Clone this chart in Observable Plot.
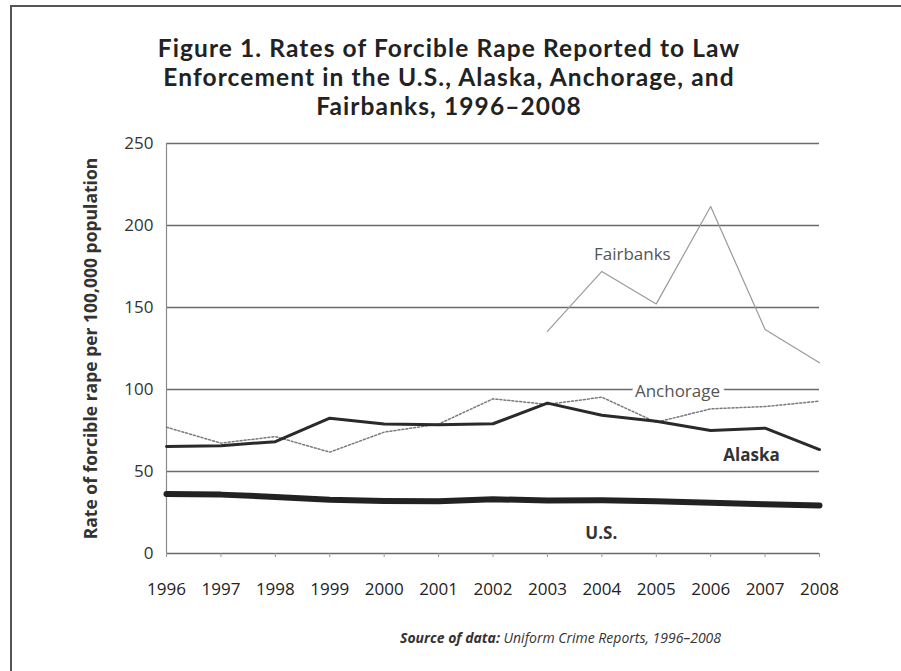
<!DOCTYPE html>
<html>
<head>
<meta charset="utf-8">
<script src="https://cdn.jsdelivr.net/npm/d3@7"></script>
<script src="https://cdn.jsdelivr.net/npm/@observablehq/plot@0.6"></script>
<style>
  html, body { margin: 0; padding: 0; background: #fff; }
  #page { position: relative; width: 901px; height: 671px; overflow: hidden; font-family: "Open Sans", sans-serif; color: #222; }
  #border-top { position: absolute; left: 11px; top: 5px; width: 890px; height: 2px; background: #555; }
  #border-left { position: absolute; left: 10px; top: 5px; width: 2px; height: 666px; background: #555; }
  #title { position: absolute; left: 0; top: 33px; width: 898px; text-align: center; font-family: Lato, "Open Sans", sans-serif; font-weight: 700; font-size: 24.5px; line-height: 29px; letter-spacing: 1.1px; color: #222; }
  #chart { position: absolute; left: 0; top: 130px; }
  #source { position: absolute; left: 400px; top: 628px; font-size: 14px; font-style: italic; color: #333; white-space: nowrap; }
  #source b { font-weight: 700; }
</style>
</head>
<body>
<div id="page">
  <div id="border-top"></div>
  <div id="border-left"></div>
  <div id="title">Figure 1. Rates of Forcible Rape Reported to Law<br>Enforcement in the U.S., Alaska, Anchorage, and<br>Fairbanks, 1996–2008</div>
  <div id="chart"></div>
  <div id="source"><b>Source of data:</b> Uniform Crime Reports, 1996–2008</div>
</div>
<script>
const years = [1996, 1997, 1998, 1999, 2000, 2001, 2002, 2003, 2004, 2005, 2006, 2007, 2008];
const usRate = [36.3, 35.9, 34.5, 32.8, 32.0, 31.8, 33.1, 32.3, 32.4, 31.8, 30.9, 30.0, 29.3];
const alaskaRate = [65.2, 65.7, 68.2, 82.5, 78.9, 78.5, 79.1, 91.7, 84.3, 80.7, 75.0, 76.4, 63.4];
const anchorageRate = [77.0, 67.3, 71.3, 61.8, 74.0, 78.9, 94.3, 90.9, 95.3, 80.0, 88.2, 89.6, 92.9];
const fairbanksYears = [2003, 2004, 2005, 2006, 2007, 2008];
const fairbanksRate = [135.4, 172.0, 152.2, 211.6, 136.6, 116.3];
const yTicks = [0, 50, 100, 150, 200, 250];
const yLabel = "Rate of forcible rape per 100,000 population";
const cityLabels = [
  {text: "Fairbanks", year: 2004.56, rate: 182.3},
  {text: "Anchorage", year: 2005.39, rate: 98.8}
];
const boldLabels = [
  {text: "Alaska", year: 2006.75, rate: 59.8},
  {text: "U.S.", year: 2003.99, rate: 12.2}
];

const us = years.map((y, i) => ({year: y, rate: usRate[i]}));
const alaska = years.map((y, i) => ({year: y, rate: alaskaRate[i]}));
const anchorage = years.map((y, i) => ({year: y, rate: anchorageRate[i]}));
const fairbanks = fairbanksYears.map((y, i) => ({year: y, rate: fairbanksRate[i]}));

const chart = Plot.plot({
  width: 901,
  height: 480,
  marginLeft: 166,
  marginRight: 82,
  marginTop: 13,
  marginBottom: 57,
  style: {fontFamily: "'Open Sans', sans-serif", background: "transparent", overflow: "visible"},
  x: {domain: [1996, 2008]},
  y: {domain: [0, 250]},
  marks: [
    Plot.ruleY(yTicks, {stroke: "#6a6a6a", strokeWidth: 1.4}),
    Plot.ruleX([1996], {stroke: "#8a8a8a", strokeWidth: 1.2}),
    Plot.axisY({ticks: yTicks, tickSize: 0, tickPadding: 13, fontSize: 17, fill: "#333", label: null}),
    Plot.axisX({ticks: years, tickFormat: "d", tickSize: 4, tickPadding: 25, fontSize: 17, fill: "#222", stroke: "#999", label: null}),
    Plot.text([yLabel], {frameAnchor: "left", textAnchor: "middle", rotate: -90, dx: -75, fontSize: 17.5, fontWeight: "bold", fill: "#333"}),
    Plot.line(fairbanks, {x: "year", y: "rate", stroke: "#9a9a9a", strokeWidth: 1.2}),
    Plot.line(anchorage, {x: "year", y: "rate", stroke: "#7a7a7a", strokeWidth: 1.5, strokeDasharray: "2,2"}),
    Plot.line(alaska, {x: "year", y: "rate", stroke: "#2a2a2a", strokeWidth: 3}),
    Plot.line(us, {x: "year", y: "rate", stroke: "#222", strokeWidth: 6}),
    Plot.text(cityLabels, {x: "year", y: "rate", text: "text", fontSize: 17, fill: "#555", stroke: "white", strokeWidth: 10}),
    Plot.text(boldLabels, {x: "year", y: "rate", text: "text", fontSize: 17, fontWeight: "bold", fill: "#333", stroke: "white", strokeWidth: 6})
  ]
});
document.getElementById("chart").appendChild(chart);
</script>
</body>
</html>
